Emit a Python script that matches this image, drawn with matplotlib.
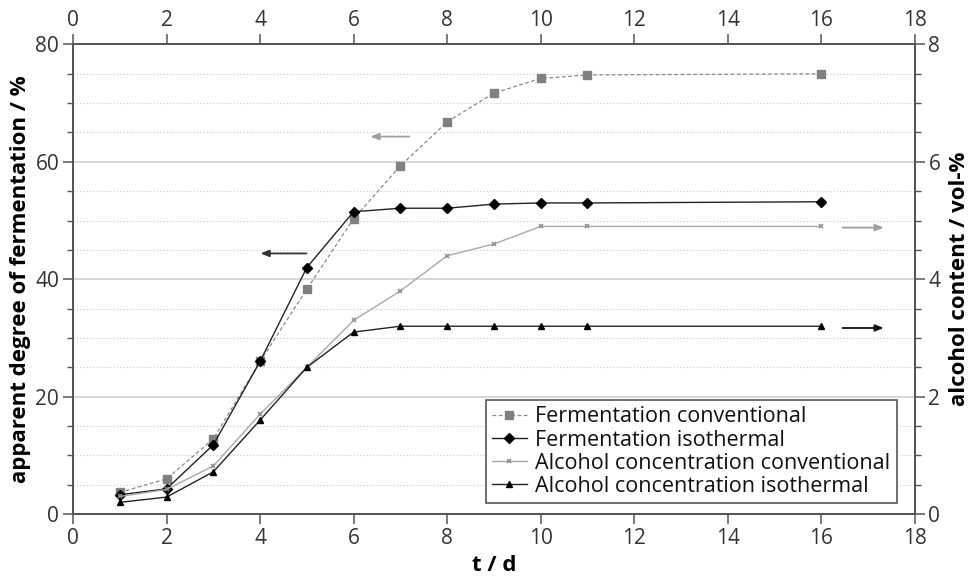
import numpy as np
import matplotlib.pyplot as plt
from matplotlib.ticker import MultipleLocator

plt.rcParams['font.family'] = ['Open Sans', 'DejaVu Sans']

# days
t = [1, 2, 3, 4, 5, 6, 7, 8, 9, 10, 11, 16]
# apparent degree of fermentation / %
ferm_conv = [3.7, 6.0, 12.8, 26.0, 38.3, 50.3, 59.3, 66.8, 71.7, 74.2, 74.8, 75.0]
ferm_iso = [3.3, 4.3, 11.8, 26.0, 42.0, 51.5, 52.1, 52.1, 52.8, 53.0, 53.0, 53.2]
# alcohol content / vol-%
alc_conv = [0.30, 0.42, 0.82, 1.70, 2.50, 3.30, 3.80, 4.40, 4.60, 4.90, 4.90, 4.90]
alc_iso = [0.20, 0.29, 0.72, 1.60, 2.50, 3.10, 3.20, 3.20, 3.20, 3.20, 3.20, 3.20]

xticks = np.arange(0, 19, 2)

fig = plt.figure(figsize=(9.74, 5.77), dpi=100)
ax = fig.add_axes([0.075, 0.109, 0.864, 0.814])
ax2 = ax.twinx()
ax3 = ax.twiny()

spc = '#555555'
tc = '#333333'

# grid
ax.set_axisbelow(True)
ax.yaxis.set_major_locator(MultipleLocator(20))
ax.yaxis.set_minor_locator(MultipleLocator(5))
ax.grid(True, which='major', axis='y', color='#d0d0d0', lw=1.2)
ax.grid(True, which='minor', axis='y', color='#c8c8c8', lw=0.8, ls=(0, (1, 2)))

l1, = ax.plot(t, ferm_conv, ls='--', lw=0.9, color='#888888', marker='s', ms=6,
              mfc='#808080', mec='#808080', dashes=(3, 2))
l2, = ax.plot(t, ferm_iso, ls='-', lw=1.0, color='#222222', marker='D', ms=5.5,
              mfc='black', mec='black')
l3, = ax2.plot(t, alc_conv, ls='-', lw=1.0, color='#a8a8a8', marker='x', ms=3.5,
               mec='#909090', mew=1.2)
l4, = ax2.plot(t, alc_iso, ls='-', lw=1.0, color='#222222', marker='^', ms=4.5,
               mfc='black', mec='black')

ax.set_xlim(0, 18)
ax.set_ylim(0, 80)
ax2.set_ylim(0, 8)
ax3.set_xlim(0, 18)
ax.set_xticks(xticks)
ax3.set_xticks(xticks)
ax2.yaxis.set_major_locator(MultipleLocator(2))
ax2.yaxis.set_minor_locator(MultipleLocator(0.5))

for a in (ax, ax2, ax3):
    for s in a.spines.values():
        s.set_color(spc)
        s.set_linewidth(1.2)
    a.tick_params(which='major', direction='out', length=7, width=1.1, color=spc,
                  labelsize=15, labelcolor=tc, pad=3)
    a.tick_params(which='minor', direction='out', length=4, width=1.0, color=spc)

ax.set_xlabel('t / d', fontsize=16, fontweight='bold', labelpad=4)
ax.set_ylabel('apparent degree of fermentation / %', fontsize=16, fontweight='bold', labelpad=3)
ax2.set_ylabel('alcohol content / vol-%', fontsize=16, fontweight='bold', labelpad=6)

# arrows pointing to the matching axis
arr = dict(arrowstyle='-|>,head_length=0.5,head_width=0.2', lw=1.3)
ax.annotate('', xy=(3.95, 44.4), xytext=(5.05, 44.4),
            arrowprops=dict(arr, color='#333333'))
ax.annotate('', xy=(6.3, 64.3), xytext=(7.25, 64.3),
            arrowprops=dict(arr, color='#a0a0a0'))
ax.annotate('', xy=(17.4, 48.8), xytext=(16.4, 48.8),
            arrowprops=dict(arr, color='#a0a0a0'))
ax.annotate('', xy=(17.4, 31.7), xytext=(16.4, 31.7),
            arrowprops=dict(arr, color='#111111'))

# legend on the topmost twin so it covers the lines
leg = ax3.legend([l1, l2, l3, l4],
                 ['Fermentation conventional', 'Fermentation isothermal',
                  'Alcohol concentration conventional', 'Alcohol concentration isothermal'],
                 loc='lower right', bbox_to_anchor=(0.979, 0.023), fontsize=15.5,
                 frameon=True, fancybox=False, handlelength=1.6, handletextpad=0.4,
                 labelspacing=0.1, borderpad=0.3, borderaxespad=0, framealpha=1)
leg.get_frame().set_edgecolor('#555555')
leg.get_frame().set_linewidth(1.2)
for txt in leg.get_texts():
    txt.set_color('#111111')

fig.savefig('out.png', dpi=100)
